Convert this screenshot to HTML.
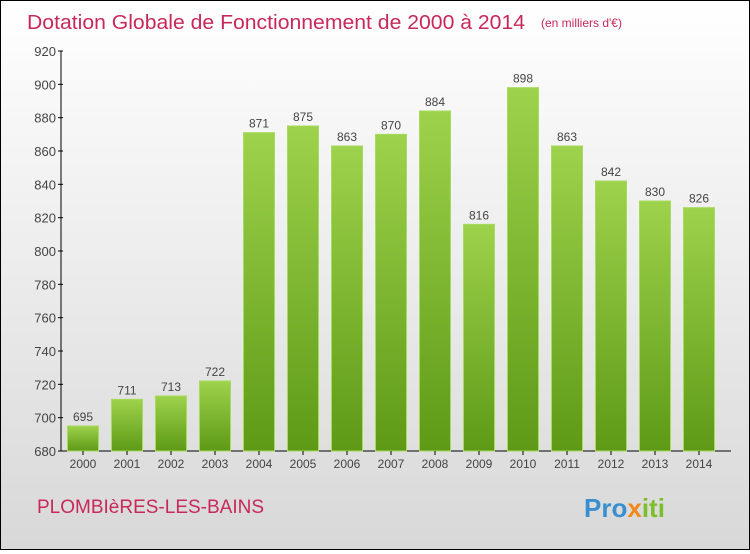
<!DOCTYPE html>
<html><head><meta charset="utf-8"><style>
body{margin:0}
#c{width:748px;height:548px;border:1px solid #000;background:linear-gradient(#fff,#d8d8d8);position:relative;font-family:"Liberation Sans","DejaVu Sans",sans-serif}
</style></head><body>
<div id="c">
<svg width="748" height="548" id="svg">
<defs><linearGradient id="g" x1="0" y1="0" x2="0" y2="1"><stop offset="0" stop-color="#9dd24c"/><stop offset="1" stop-color="#5e9a16"/></linearGradient></defs>
<text x="26" y="28" font-size="20" textLength="498" lengthAdjust="spacingAndGlyphs" fill="#c8285a">Dotation Globale de Fonctionnement de 2000 à 2014</text>
<text x="540" y="26" font-size="12" fill="#c8285a">(en milliers d'€)</text>
<text x="36" y="512" font-size="19" fill="#c8285a">PLOMBIèRES-LES-BAINS</text>
<text x="583" y="516" font-size="26" font-weight="bold" fill="#3a8fd0">Pro<tspan fill="#f08a1a">x</tspan><tspan fill="#7cbf2a">iti</tspan></text>
<g id="plot"></g>
</svg></div>
<script>
const categories=["2000","2001","2002","2003","2004","2005","2006","2007","2008","2009","2010","2011","2012","2013","2014"];
const values=[695,711,713,722,871,875,863,870,884,816,898,863,842,830,826];
const ticks=[680,700,720,740,760,780,800,820,840,860,880,900,920];
const ns="http://www.w3.org/2000/svg";
const p=document.getElementById('plot');
const y=v=>450-(v-680)*(400/240);
const x=i=>82+i*44;
function mk(t,a){const e=document.createElementNS(ns,t);for(const k in a)e.setAttribute(k,a[k]);p.appendChild(e);return e;}
let ax=mk('line',{x1:60,y1:50,x2:60,y2:450,stroke:'#000'});


let bx=mk('line',{x1:60,y1:450,x2:730,y2:450,stroke:'#000'});


ticks.forEach(t=>{
 const l=mk('line',{x1:57,x2:62,y1:y(t),y2:y(t),stroke:'#000'});
 
 
 const tx=mk('text',{x:55,y:y(t)+5,'text-anchor':'end','font-size':13,fill:'#444'});
 tx.textContent=t;
 
 
});
categories.forEach((c,i)=>{
 const v=values[i];
 const r=mk('rect',{x:x(i)-15.5,y:y(v),width:31,height:450-y(v),fill:'url(#g)',stroke:'#a8da5c','stroke-width':1});
 
 
 const vl=mk('text',{x:x(i),y:y(v)-5,'text-anchor':'middle','font-size':12,fill:'#444'});
 vl.textContent=v;
 
 
 const tk=mk('line',{x1:x(i),x2:x(i),y1:450,y2:454,stroke:'#000'});
 
 
 const xl=mk('text',{x:x(i),y:467,'text-anchor':'middle','font-size':12,fill:'#444'});
 xl.textContent=c;
 
 
});
</script>
</body></html>
